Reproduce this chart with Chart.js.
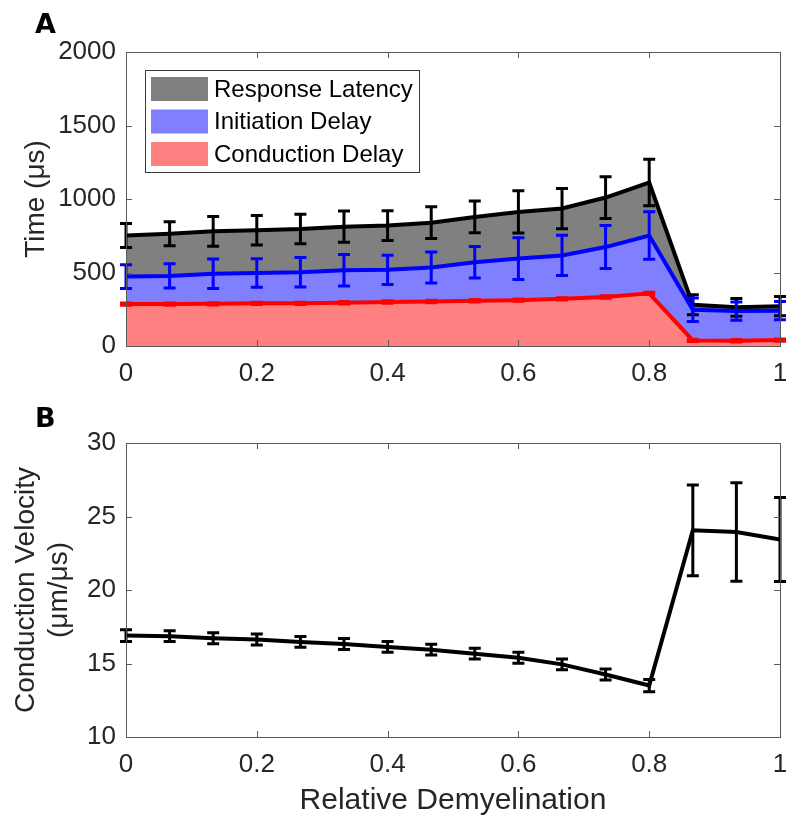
<!DOCTYPE html>
<html>
<head>
<meta charset="utf-8">
<script src="https://cdn.jsdelivr.net/npm/chart.js@4.4.1/dist/chart.umd.min.js"></script>
<style>
  html, body { margin: 0; padding: 0; background: #fff; }
  #page { position: relative; width: 800px; height: 836px; }
  .panel { position: absolute; left: 0; width: 800px; }
  .tag { position: absolute; left: 35px; font: bold 27px 'DejaVu Sans', sans-serif; line-height: 28px; color: #000; }
</style>
</head>
<body>
<div id="page">
  <div class="panel" style="top:0;height:400px"><canvas id="chartA"></canvas></div>
  <div class="panel" style="top:400px;height:436px"><canvas id="chartB"></canvas></div>
  <div class="tag" style="top:10px">A</div>
  <div class="tag" style="top:404px">B</div>
</div>
<script>
(function () {
  'use strict';

  var DEMYELINATION = [0, 0.0667, 0.1333, 0.2, 0.2667, 0.3333, 0.4, 0.4667, 0.5333, 0.6, 0.6667, 0.7333, 0.8, 0.8667, 0.9333, 1];
  var X_TICKS = [0, 0.2, 0.4, 0.6, 0.8, 1];
  var TIME_TICKS = [0, 500, 1000, 1500, 2000];
  var VELOCITY_TICKS = [10, 15, 20, 25, 30];

  // panel A, level of each boundary as drawn (us)
  var conductionDelay = [285, 285, 287, 290, 290, 294, 299, 303, 308, 312, 321, 333, 358, 38, 36, 40];
  var conductionErr = [8, 8, 8, 8, 8, 8, 8, 8, 8, 8, 8, 8, 8, 8, 8, 8];
  var initiationTop = [472, 477, 492, 497, 502, 515, 518, 534, 570, 595, 616, 673, 752, 247, 238, 240];
  var initiationErr = [80, 82, 100, 97, 100, 107, 99, 105, 107, 142, 137, 146, 162, 80, 62, 62];
  var responseLatency = [752, 764, 780, 787, 796, 812, 819, 839, 878, 912, 935, 1010, 1112, 280, 263, 271];
  var responseErr = [82, 82, 101, 100, 100, 106, 101, 108, 108, 144, 137, 142, 158, 68, 60, 66];

  // panel B (um/us)
  var velocity = [16.9, 16.86, 16.72, 16.63, 16.47, 16.33, 16.13, 15.94, 15.67, 15.39, 14.94, 14.25, 13.5, 24.06, 23.94, 23.44];
  var velocityErr = [0.4, 0.37, 0.37, 0.37, 0.37, 0.37, 0.37, 0.37, 0.37, 0.37, 0.37, 0.37, 0.42, 3.09, 3.35, 2.86];

  var FONT = "'Liberation Sans', Arial, sans-serif";
  var TEXT = '#262626';
  var CAP = 6;
  var TICK_LEN = 6;

  function toPoints(vals) {
    return vals.map(function (v, i) { return { x: DEMYELINATION[i], y: v }; });
  }

  function fixedTicks(list) {
    return function (scale) {
      scale.ticks = list.map(function (v) { return { value: v }; });
    };
  }

  var errorBars = {
    id: 'errorBars',
    afterDatasetDraw: function (chart, args) {
      var ds = chart.data.datasets[args.index];
      if (!ds.errors) return;
      var xs = chart.scales.x, ys = chart.scales.y, ctx = chart.ctx;
      ctx.save();
      ctx.strokeStyle = ds.borderColor;
      ctx.lineWidth = 3;
      ctx.beginPath();
      ds.data.forEach(function (p, i) {
        var e = ds.errors[i];
        var x = xs.getPixelForValue(p.x);
        var top = ys.getPixelForValue(p.y + e);
        var bot = ys.getPixelForValue(p.y - e);
        ctx.moveTo(x, top); ctx.lineTo(x, bot);
        ctx.moveTo(x - CAP, top); ctx.lineTo(x + CAP, top);
        ctx.moveTo(x - CAP, bot); ctx.lineTo(x + CAP, bot);
      });
      ctx.stroke();
      ctx.restore();
    }
  };

  var boxTicks = {
    id: 'boxTicks',
    afterDraw: function (chart) {
      var a = chart.chartArea, ctx = chart.ctx;
      var xs = chart.scales.x, ys = chart.scales.y;
      ctx.save();
      ctx.strokeStyle = '#5a5a5a';
      ctx.lineWidth = 1;
      ctx.strokeRect(Math.round(a.left) + 0.5, Math.round(a.top) + 0.5, Math.round(a.right - a.left), Math.round(a.bottom - a.top));
      ctx.beginPath();
      xs.ticks.forEach(function (t) {
        var px = Math.round(xs.getPixelForValue(t.value)) + 0.5;
        ctx.moveTo(px, a.bottom); ctx.lineTo(px, a.bottom - TICK_LEN);
        ctx.moveTo(px, a.top); ctx.lineTo(px, a.top + TICK_LEN);
      });
      ys.ticks.forEach(function (t) {
        var py = Math.round(ys.getPixelForValue(t.value)) + 0.5;
        ctx.moveTo(a.left, py); ctx.lineTo(a.left + TICK_LEN, py);
        ctx.moveTo(a.right, py); ctx.lineTo(a.right - TICK_LEN, py);
      });
      ctx.stroke();
      ctx.restore();
    }
  };

  var boxLegend = {
    id: 'boxLegend',
    afterDraw: function (chart) {
      var a = chart.chartArea, ctx = chart.ctx;
      var left = a.left + 19, top = a.top + 18;
      var rows = chart.data.datasets.slice().reverse();
      ctx.save();
      ctx.fillStyle = '#fff';
      ctx.fillRect(left, top, 274, 102);
      ctx.strokeStyle = '#3a3a3a';
      ctx.lineWidth = 1;
      ctx.strokeRect(left + 0.5, top + 0.5, 274, 102);
      ctx.font = '24px ' + FONT;
      ctx.textBaseline = 'middle';
      rows.forEach(function (ds, i) {
        var cy = top + 19 + i * 32.5;
        ctx.fillStyle = ds.backgroundColor;
        ctx.fillRect(left + 6, cy - 12, 57, 24);
        ctx.fillStyle = '#000';
        ctx.fillText(ds.label, left + 69, cy + 1);
      });
      ctx.restore();
    }
  };

  function axes(opts) {
    return {
      x: {
        type: 'linear', min: 0, max: 1,
        afterBuildTicks: fixedTicks(X_TICKS),
        afterFit: function (s) { s.height = opts.xHeight; },
        grid: { display: false, drawTicks: false },
        border: { display: false },
        ticks: { color: TEXT, font: { family: FONT, size: 26 }, padding: 12, maxRotation: 0, callback: function (v) { return String(v); } },
        title: opts.xTitle || { display: false }
      },
      y: {
        type: 'linear', min: opts.yMin, max: opts.yMax,
        afterBuildTicks: fixedTicks(opts.yTicks),
        afterFit: function (s) { s.width = 126; },
        grid: { display: false, drawTicks: false },
        border: { display: false },
        ticks: { color: TEXT, font: { family: FONT, size: 26 }, padding: 10, callback: function (v) { return String(v); } },
        title: opts.yTitle
      }
    };
  }

  function baseLine(label, vals, errs, line, fillColor, fill) {
    return {
      label: label, data: toPoints(vals), errors: errs,
      borderColor: line, backgroundColor: fillColor, borderWidth: 4,
      fill: fill, pointRadius: 0, tension: 0, clip: 8
    };
  }

  new Chart(document.getElementById('chartA'), {
    type: 'line',
    data: {
      datasets: [
        baseLine('Conduction Delay', conductionDelay, conductionErr, '#ff0000', '#ff8080', 'origin'),
        baseLine('Initiation Delay', initiationTop, initiationErr, '#0000ff', '#8080ff', '-1'),
        baseLine('Response Latency', responseLatency, responseErr, '#000000', '#808080', '-1')
      ]
    },
    options: {
      responsive: true, maintainAspectRatio: false, animation: false,
      layout: { padding: { top: 52, right: 20, left: 0, bottom: 0 } },
      plugins: { legend: { display: false }, tooltip: { enabled: false }, filler: { drawTime: 'beforeDatasetsDraw' } },
      scales: axes({
        xHeight: 54, yMin: 0, yMax: 2000, yTicks: TIME_TICKS,
        yTitle: { display: true, text: 'Time (\u03bcs)', color: TEXT, font: { family: FONT, size: 28, lineHeight: 1.2 }, padding: { top: 19, bottom: 0 } }
      })
    },
    plugins: [errorBars, boxTicks, boxLegend]
  });

  new Chart(document.getElementById('chartB'), {
    type: 'line',
    data: {
      datasets: [
        baseLine('Conduction Velocity', velocity, velocityErr, '#000000', '#000000', false)
      ]
    },
    options: {
      responsive: true, maintainAspectRatio: false, animation: false,
      layout: { padding: { top: 43, right: 20, left: 0, bottom: 0 } },
      plugins: { legend: { display: false }, tooltip: { enabled: false } },
      scales: axes({
        xHeight: 99, yMin: 10, yMax: 30, yTicks: VELOCITY_TICKS,
        xTitle: { display: true, text: 'Relative Demyelination', color: TEXT, font: { family: FONT, size: 30, lineHeight: 1.2 }, padding: { top: 0, bottom: 17 } },
        yTitle: { display: true, text: ['Conduction Velocity', '(\u03bcm/\u03bcs)'], color: TEXT, font: { family: FONT, size: 28, lineHeight: 1.18 }, padding: { top: 10, bottom: 0 } }
      })
    },
    plugins: [errorBars, boxTicks]
  });
})();
</script>
</body>
</html>
